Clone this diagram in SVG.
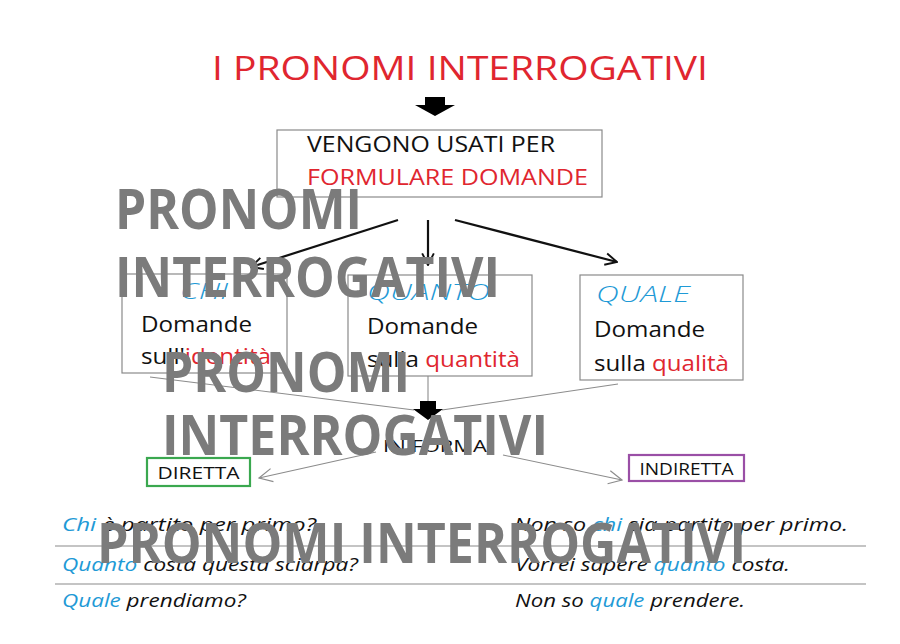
<svg xmlns="http://www.w3.org/2000/svg" width="900" height="644" viewBox="0 0 900 644">
<defs>
<style>
.ui{font-family:"Open Sans","Noto Sans","Liberation Sans",sans-serif;}
.hand{font-family:"Open Sans","DejaVu Sans",sans-serif;font-style:italic;}
.blk{fill:#111;}
.red{fill:#e0262f;}
.blue{fill:#1f9ad6;}
.box{fill:#fff;stroke:#8a8a8a;stroke-width:1.2;}
.thick{stroke:#111;stroke-width:2.2;fill:none;}
.thin{stroke:#8c8c8c;stroke-width:1.1;fill:none;}
.rule{stroke:#8a8a8a;stroke-width:1.2;}
.wm{font-family:"Open Sans","Noto Sans","Liberation Sans",sans-serif;font-weight:700;fill:#7b7b7b;font-size:55px;}
</style>
<marker id="ah" viewBox="0 0 12 12" refX="11" refY="6" markerWidth="14" markerHeight="14" markerUnits="userSpaceOnUse" orient="auto">
<path d="M1,1 L11,6 L1,11" fill="none" stroke="#111" stroke-width="1.6"/>
</marker>
<marker id="ahg" viewBox="0 0 12 12" refX="11" refY="6" markerWidth="16" markerHeight="16" markerUnits="userSpaceOnUse" orient="auto">
<path d="M1,1 L11,6 L1,11" fill="none" stroke="#8c8c8c" stroke-width="0.9"/>
</marker>
</defs>
<rect width="900" height="644" fill="#fff"/>

<g id="title">
<text x="212" y="80" class="ui red" font-size="33" textLength="496" lengthAdjust="spacingAndGlyphs">I PRONOMI INTERROGATIVI</text>
</g>

<g id="connectors">
<path d="M425,97 H445 V105 H455 L435,116 L415,105 H425 Z" fill="#000"/>
<line x1="398" y1="220" x2="251" y2="267" class="thick" marker-end="url(#ah)"/>
<line x1="428" y1="220" x2="428" y2="265" class="thick" marker-end="url(#ah)"/>
<line x1="455" y1="220" x2="617" y2="262" class="thick" marker-end="url(#ah)"/>
<line x1="150" y1="377" x2="414" y2="410" class="thin"/>
<line x1="428" y1="376" x2="428" y2="403" class="thin"/>
<line x1="618" y1="384" x2="442" y2="410" class="thin"/>
<path d="M420,401 H436 V409 H443 L428,420 L413,409 H420 Z" fill="#000"/>
<line x1="376" y1="452" x2="259" y2="478" class="thin" marker-end="url(#ahg)"/>
<line x1="503" y1="455" x2="622" y2="480" class="thin" marker-end="url(#ahg)"/>
</g>

<g id="box-usati">
<rect x="277" y="130" width="325" height="67" class="box"/>
<text x="307" y="152" class="ui blk" font-size="21" textLength="248" lengthAdjust="spacingAndGlyphs">VENGONO USATI PER</text>
<text x="307" y="185" class="ui red" font-size="21" textLength="281" lengthAdjust="spacingAndGlyphs">FORMULARE DOMANDE</text>
</g>

<g id="box-chi">
<rect x="122" y="274" width="165" height="99" class="box"/>
<text x="180" y="299" class="hand blue" font-size="22" font-weight="300" textLength="48" lengthAdjust="spacingAndGlyphs">CHI</text>
<text x="141" y="332" class="ui blk" font-size="21" textLength="111" lengthAdjust="spacingAndGlyphs">Domande</text>
<text x="141" y="364" class="ui blk" font-size="21" textLength="130" lengthAdjust="spacingAndGlyphs">sull'<tspan class="red">identità</tspan></text>
</g>

<g id="box-quanto">
<rect x="348" y="275" width="184" height="101" class="box"/>
<text x="367" y="300" class="hand blue" font-size="22" font-weight="300" textLength="123" lengthAdjust="spacingAndGlyphs">QUANTO</text>
<text x="367" y="334" class="ui blk" font-size="21" textLength="111" lengthAdjust="spacingAndGlyphs">Domande</text>
<text x="367" y="367" class="ui blk" font-size="21" textLength="153" lengthAdjust="spacingAndGlyphs">sulla <tspan class="red">quantità</tspan></text>
</g>

<g id="box-quale">
<rect x="580" y="275" width="163" height="105" class="box"/>
<text x="596" y="302" class="hand blue" font-size="22" font-weight="300" textLength="94" lengthAdjust="spacingAndGlyphs">QUALE</text>
<text x="594" y="337" class="ui blk" font-size="21" textLength="111" lengthAdjust="spacingAndGlyphs">Domande</text>
<text x="594" y="371" class="ui blk" font-size="21" textLength="135" lengthAdjust="spacingAndGlyphs">sulla <tspan class="red">qualità</tspan></text>
</g>

<g id="label-informa">
<text x="383" y="452" class="ui blk" font-size="16" textLength="104" lengthAdjust="spacingAndGlyphs">IN FORMA</text>
</g>

<g id="box-diretta">
<rect x="147" y="458" width="103" height="28" fill="#fff" stroke="#3aa84f" stroke-width="2.2"/>
<text x="198.5" y="479" class="ui blk" font-size="16" text-anchor="middle" textLength="82" lengthAdjust="spacingAndGlyphs">DIRETTA</text>
</g>

<g id="box-indiretta">
<rect x="629" y="455" width="115" height="26" fill="#fff" stroke="#9a4fa6" stroke-width="2.2"/>
<text x="686.5" y="475" class="ui blk" font-size="16" text-anchor="middle" textLength="94" lengthAdjust="spacingAndGlyphs">INDIRETTA</text>
</g>

<g id="examples">
<line x1="55" y1="546" x2="866" y2="546" class="rule"/>
<line x1="55" y1="584" x2="866" y2="584" class="rule"/>
<text x="62" y="531" class="hand blk" font-size="18" textLength="254" lengthAdjust="spacingAndGlyphs"><tspan class="blue">Chi</tspan> è partito per primo?</text>
<text x="62" y="571" class="hand blk" font-size="18" textLength="296" lengthAdjust="spacingAndGlyphs"><tspan class="blue">Quanto</tspan> costa questa sciarpa?</text>
<text x="62" y="607" class="hand blk" font-size="18" textLength="184" lengthAdjust="spacingAndGlyphs"><tspan class="blue">Quale</tspan> prendiamo?</text>
<text x="514" y="531" class="hand blk" font-size="18" textLength="334" lengthAdjust="spacingAndGlyphs">Non so <tspan class="blue">chi</tspan> sia partito per primo.</text>
<text x="515" y="571" class="hand blk" font-size="18" textLength="275" lengthAdjust="spacingAndGlyphs">Vorrei sapere <tspan class="blue">quanto</tspan> costa.</text>
<text x="515" y="607" class="hand blk" font-size="18" textLength="230" lengthAdjust="spacingAndGlyphs">Non so <tspan class="blue">quale</tspan> prendere.</text>
</g>

<g id="watermark">
<text x="115" y="229" class="wm" textLength="247" lengthAdjust="spacingAndGlyphs">PRONOMI</text>
<text x="115" y="297" class="wm" textLength="385" lengthAdjust="spacingAndGlyphs">INTERROGATIVI</text>
<text x="162" y="392" class="wm" textLength="248" lengthAdjust="spacingAndGlyphs">PRONOMI</text>
<text x="162" y="455" class="wm" textLength="386" lengthAdjust="spacingAndGlyphs">INTERROGATIVI</text>
<text x="97" y="563" class="wm" textLength="649" lengthAdjust="spacingAndGlyphs">PRONOMI INTERROGATIVI</text>
</g>
</svg>
